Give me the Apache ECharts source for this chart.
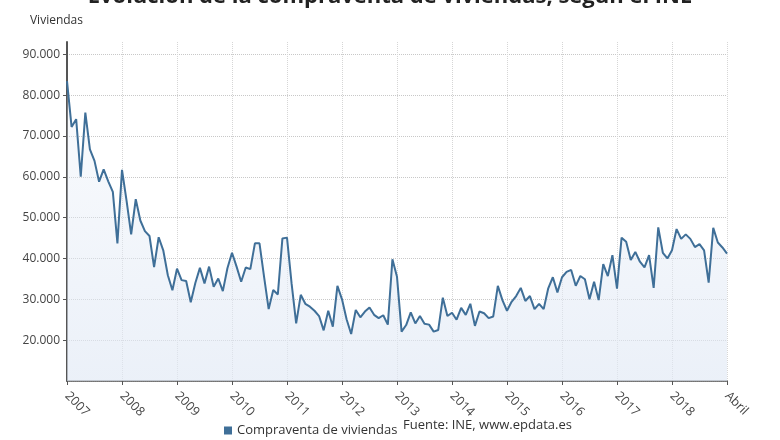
<!DOCTYPE html>
<html>
<head>
<meta charset="utf-8">
<script src="https://cdn.jsdelivr.net/npm/echarts@6/dist/echarts.min.js"></script>
<style>
  html, body { margin: 0; padding: 0; background: #fff; }
  #chart { width: 780px; height: 440px; }
</style>
</head>
<body>
<div id="chart"></div>
<script>
// monthly slots from 2007, one per point
const months = [];
for (let i = 0; i < 145; i++) {
  const y = 2007 + Math.floor(i / 12);
  const m = (i % 12) + 1;
  months.push(y + '-' + (m < 10 ? '0' + m : m));
}

// labels shown every 12 slots
const tickLabels = ['2007', '2008', '2009', '2010', '2011', '2012', '2013',
  '2014', '2015', '2016', '2017', '2018', 'Abril'];

const yTicks = [10000, 20000, 30000, 40000, 50000, 60000, 70000, 80000, 90000];

// compraventa de viviendas
const compraventa = [
  83400, 72200, 74100, 60000, 75700, 66700, 63900, 58800, 61800, 58900, 56300, 43700,
  61700, 54100, 45900, 54500, 49300, 46700, 45500, 37900, 45200, 42000, 35900, 32200,
  37500, 34700, 34500, 29300, 34000, 37700, 33900, 38000, 33100, 35100, 32000, 37600,
  41400, 38000, 34300, 37800, 37400, 43700, 43700, 35500, 27600, 32300, 31200, 44900,
  45100, 33900, 24100, 31100, 28900, 28200, 27200, 25900, 22400, 27200, 23300, 33300,
  30000, 25100, 21500, 27400, 25600, 27000, 28000, 26200, 25400, 26100, 23800, 39800,
  35500, 22100, 23700, 26800, 24100, 25900, 24000, 23800, 22100, 22500, 30400, 25900,
  26700, 25000, 27900, 26200, 28900, 23500, 27000, 26600, 25400, 25800, 33300, 29800,
  27200, 29400, 30800, 32800, 29600, 30800, 27600, 28900, 27600, 32700, 35400, 31700,
  35400, 36700, 37200, 33300, 35700, 34900, 30000, 34300, 29800, 38600, 35700, 40800,
  32600, 45100, 44100, 39600, 41600, 39200, 37800, 40800, 32800, 47600, 41400, 40000,
  42000, 47200, 44800, 45900, 44800, 42800, 43500, 42000, 34100, 47500, 43900, 42700,
  41200
];

const FONT = '"Open Sans", sans-serif';

const chart = echarts.init(document.getElementById('chart'));

// top tick (axis max) gets no grid line
const hLineColors = yTicks.map(() => '#c8c8c8').concat(['rgba(0,0,0,0)']);

const option = {
  animation: false,
  backgroundColor: '#fff',
  textStyle: { fontFamily: FONT },
  title: {
    text: 'Evolución de la compraventa de viviendas, según el INE',
    left: 'center',
    top: -14,
    padding: 0,
    textStyle: { fontFamily: FONT, fontSize: 22, fontWeight: 'bold', color: '#222' }
  },
  legend: {
    data: ['Compraventa de viviendas'],
    left: 219,
    top: 419,
    icon: 'rect',
    itemWidth: 8,
    itemHeight: 8,
    itemGap: 6,
    textStyle: { fontFamily: FONT, fontSize: 13, color: '#333' }
  },
  graphic: [{
    type: 'text',
    left: 403,
    top: 419,
    style: { text: 'Fuente: INE, www.epdata.es', font: '13px ' + FONT, fill: '#333' }
  }],
  grid: { left: 67, right: 53, top: 42, bottom: 59 },
  xAxis: {
    type: 'category',
    data: months,
    boundaryGap: false,
    axisLine: { lineStyle: { color: '#555', width: 1.5 } },
    axisTick: { show: true, interval: 11, length: 4, lineStyle: { color: '#555' } },
    axisLabel: {
      interval: 11,
      rotate: -45,
      margin: 13,
      fontSize: 12.5,
      color: '#444',
      fontFamily: FONT,
      formatter: (val, idx) => tickLabels[Math.round(idx / 12)]
    },
    splitLine: { show: true, interval: 11, lineStyle: { color: '#d6d6d6', type: 'dotted' } }
  },
  yAxis: {
    type: 'value',
    min: 10000,
    max: 93000,
    interval: 10000,
    name: 'Viviendas',
    nameLocation: 'end',
    nameGap: 15,
    nameTextStyle: { fontFamily: FONT, fontSize: 12, color: '#333', align: 'right', padding: [0, -16, 0, 0] },
    axisLine: { show: true, lineStyle: { color: '#555', width: 2 } },
    axisTick: { show: true, length: 4, lineStyle: { color: '#555' } },
    axisLabel: {
      showMaxLabel: false,
      showMinLabel: false,
      fontSize: 12,
      color: '#444',
      margin: 7,
      fontFamily: FONT,
      formatter: v => v.toLocaleString('de-DE', { minimumFractionDigits: 0 }).replace(',', '.')
    },
    splitLine: { show: true, lineStyle: { color: hLineColors, type: 'dotted' } }
  },
  series: [{
    name: 'Compraventa de viviendas',
    type: 'line',
    data: compraventa,
    symbol: 'none',
    itemStyle: { color: '#3f6f98' },
    lineStyle: { color: '#3f6f98', width: 2 },
    areaStyle: {
      color: new echarts.graphic.LinearGradient(0, 0, 0, 1, [
        { offset: 0, color: 'rgba(228,235,246,0.3)' },
        { offset: 1, color: 'rgba(225,233,245,0.95)' }
      ])
    }
  }]
};

chart.setOption(option);
window.addEventListener('resize', chart.resize);
</script>
</body>
</html>
